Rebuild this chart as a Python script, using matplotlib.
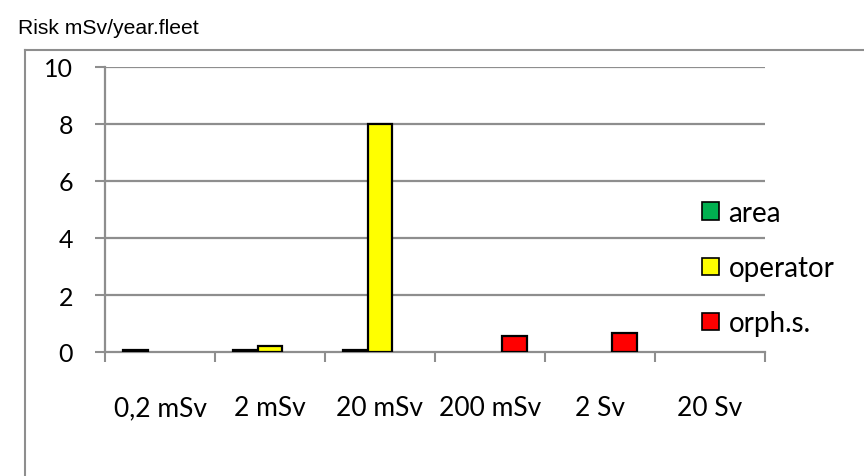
import matplotlib
matplotlib.use("Agg")
import matplotlib.pyplot as plt
from matplotlib.lines import Line2D
from matplotlib.patches import Patch
import numpy as np

categories = ['0,2 mSv', '2 mSv', '20 mSv', '200 mSv', '2 Sv', '20 Sv']
series_names = ['area', 'operator', 'orph.s.']
area = [0.08, 0.08, 0.08, 0, 0, 0]
operator = [0, 0.2, 8, 0, 0, 0]
orphan = [0, 0, 0, 0.55, 0.65, 0]
y_ticks = [0, 2, 4, 6, 8, 10]

colors = ['#00b050', '#ffff00', '#ff0000']
grey = '#8e8e8e'
W, H = 864, 477

fig = plt.figure(figsize=(W / 100, H / 100), dpi=100)
ax = fig.add_axes([105 / W, 1 - 353 / H, 660 / W, 285 / H])

width = 0.223
centers = np.arange(len(categories)) + 0.5
for k, (vals, col) in enumerate(zip([area, operator, orphan], colors)):
    vals = np.array(vals, dtype=float)
    mask = vals > 0
    ax.bar(centers[mask] + (k - 1) * width, vals[mask], width=width,
           color=col, edgecolor='black', linewidth=1.6, zorder=3)

ax.set_xlim(0, len(categories))
ax.set_ylim(0, 10)

# y axis
ax.set_yticks(y_ticks)
ax.set_yticklabels([str(v) for v in y_ticks], family='Lato', fontsize=18)
ax.tick_params(axis='y', direction='out', length=7, width=1.5, color=grey,
               pad=16)
for v in y_ticks[1:]:
    ax.axhline(v, color=grey, linewidth=1.6, zorder=1)

# x axis: boundary ticks, labels centred in each category
ax.set_xticks(np.arange(len(categories) + 1))
ax.set_xticklabels([])
ax.tick_params(axis='x', which='major', direction='out', length=7,
               width=1.5, color=grey)
ax.set_xticks(centers, minor=True)
ax.set_xticklabels(categories, minor=True, family='Lato', fontsize=19)
ax.tick_params(axis='x', which='minor', length=0, pad=31)

for s in ['top', 'right']:
    ax.spines[s].set_visible(False)
for s in ['left', 'bottom']:
    ax.spines[s].set_color(grey)
    ax.spines[s].set_linewidth(1.6)

# legend to the right
handles = [Patch(facecolor=c, edgecolor='black', linewidth=1.2)
           for c in colors]
fig.legend(handles, series_names, loc='upper left',
           bbox_to_anchor=(677 / W, 1 - 176 / H), frameon=False,
           prop={'family': 'Lato', 'size': 20}, handlelength=0.6,
           handleheight=0.6, handletextpad=0.35, labelspacing=1.05)

# outer chart frame
fy = 1 - 51 / H
fx = 25 / W
fig.add_artist(Line2D([fx, fx], [0, fy], color=grey, linewidth=1.5))
fig.add_artist(Line2D([fx, 1], [fy, fy], color=grey, linewidth=1.5))

fig.text(18 / W, 1 - 28 / H, 'Risk mSv/year.fleet', family='Liberation Sans',
         fontsize=15.2, va='center', ha='left')

fig.savefig('out.png', dpi=100)
